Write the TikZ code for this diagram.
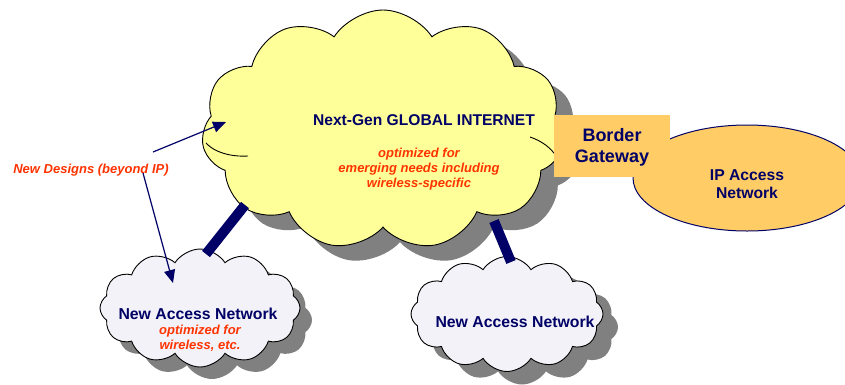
\documentclass[tikz,border=0pt]{standalone}
\usepackage{fontspec}
\setmainfont{Liberation Sans}
\usetikzlibrary{shapes.symbols,shapes.geometric,arrows.meta}
\definecolor{navy}{HTML}{000066}
\definecolor{redt}{HTML}{FF3300}
\definecolor{cloudy}{HTML}{FFFF99}
\definecolor{cloudl}{HTML}{F2F2F8}
\definecolor{orng}{HTML}{FFCC66}
\definecolor{shad}{HTML}{808080}
\tikzset{
  cloudbase/.style={cloud, cloud puff arc=115, inner sep=0pt, line width=0.9pt},
  cloudshadow/.style={cloudbase, fill=shad, draw=none},
  cloudbody/.style={cloudbase, draw=black},
  innerarc/.style={draw=black, line width=0.9pt},
  titletext/.style={text=navy, font=\bfseries\fontsize{15.6}{18}\selectfont},
  nettext/.style={text=navy, font=\bfseries\fontsize{15.8}{18}\selectfont},
  redtext/.style={text=redt, font=\bfseries\itshape\fontsize{13}{15}\selectfont, align=center},
  thickconn/.style={draw=navy, line width=10pt},
  thinarrow/.style={draw=navy, line width=1.2pt, -{Triangle[length=13pt,width=11pt]}},
}
\begin{document}
\begin{tikzpicture}[x=1pt,y=-1pt]
\useasboundingbox (0,0) rectangle (845,384);

% shadows
\node[cloudshadow, cloud puffs=11, aspect=1.5, minimum width=363pt, minimum height=240pt] (bigsh) at (400,145) {};
\node[cloudshadow, cloud puffs=12, aspect=1.7, minimum width=200pt, minimum height=118pt] (s1sh) at (212,320) {};
\node[cloudshadow, cloud puffs=12, aspect=1.67, minimum width=192pt, minimum height=115pt] (s2sh) at (522,327) {};

% clouds
\node[cloudbody, fill=cloudy, cloud puffs=11, aspect=1.5, minimum width=363pt, minimum height=240pt] (big) at (383,130) {};
\node[cloudbody, fill=cloudl, cloud puffs=12, aspect=1.7, minimum width=200pt, minimum height=118pt] (small1) at (200,308) {};
\node[cloudbody, fill=cloudl, cloud puffs=12, aspect=1.67, minimum width=192pt, minimum height=115pt] (small2) at (507,314) {};

% inner arcs of the big cloud
\coordinate (ia1s) at (248,156);
\coordinate (ia1e) at (206,143);
\coordinate (ia2s) at (530,137);
\coordinate (ia2e) at (556,156);
\draw[innerarc] (ia1s) .. controls (230,157) and (214,152) .. (ia1e);
\draw[innerarc] (ia2s) .. controls (542,141) and (551,148) .. (ia2e);

% border gateway and IP access network
\node[ellipse, draw=navy, line width=1pt, fill=orng, minimum width=228pt, minimum height=106pt, inner sep=0pt] (ipnet) at (747,178) {};
\node[rectangle, fill=orng, minimum width=116pt, minimum height=62pt, inner sep=0pt] (gw) at (612,146) {};
\node[text=navy, font=\bfseries\fontsize{18}{21}\selectfont, align=center] (gwtext) at (612,147) {Border\\Gateway};
\node[text=navy, font=\bfseries\fontsize{15.7}{17.5}\selectfont, align=center] (iptext) at (747,184) {IP Access\\Network};

% texts
\node[titletext] (title) at (424,120) {Next-Gen GLOBAL INTERNET};
\node[redtext] (bigsub) at (419,169) {optimized for\\emerging needs including\\wireless-specific};
\node[nettext] (s1text) at (198,314) {New Access Network};
\node[redtext] (s1sub) at (200,338) {optimized for\\wireless, etc.};
\node[nettext] (s2text) at (515,322) {New Access Network};
\node[redtext] (designs) at (91,170) {New Designs (beyond IP)};

% connectors
\coordinate (c1a) at (245,205);
\coordinate (c1b) at (206,254);
\coordinate (c2a) at (494,221);
\coordinate (c2b) at (511,262);
\draw[thickconn] (c1a) -- (c1b);
\draw[thickconn] (c2a) -- (c2b);

\coordinate (a1s) at (153,152);
\coordinate (a1e) at (226,122);
\coordinate (a2s) at (143,173);
\coordinate (a2e) at (173,283);
\draw[thinarrow] (a1s) -- (a1e);
\draw[thinarrow] (a2s) -- (a2e);
\end{tikzpicture}
\end{document}
